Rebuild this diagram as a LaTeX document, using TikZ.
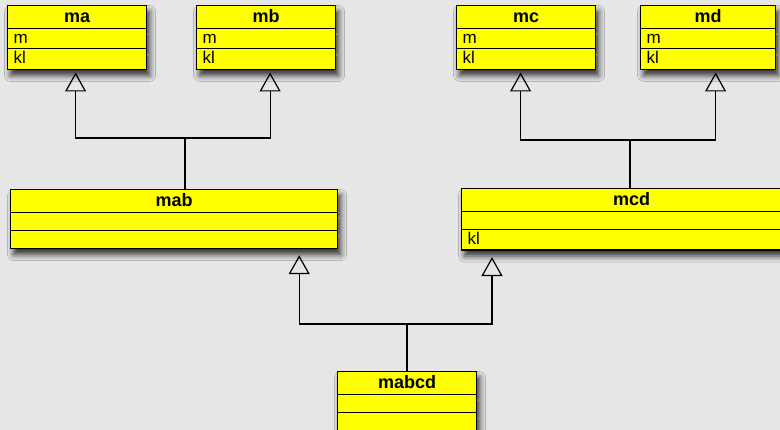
\documentclass[tikz,border=0pt]{standalone}
\usepackage{fontspec}
\setmainfont{Liberation Sans}
\usetikzlibrary{shapes.multipart,arrows.meta,shadows.blur}

\definecolor{canvas}{HTML}{E6E6E6}
\definecolor{classfill}{HTML}{FFFF00}

% rows of a class box
\newcommand\titlerow[1]{\rule{0pt}{21.4pt}\raisebox{5.5pt}{\textbf{\fontsize{18}{20}\selectfont #1}}}
\newcommand\fullrow[1]{\rule{0pt}{19.4pt}\raisebox{5pt}{#1}}
\newcommand\emptyrow{\rule{0pt}{17pt}}

\begin{document}
\begin{tikzpicture}[
    x=1pt, y=-1pt,
    umlclass/.style={rectangle split, rectangle split parts=3, draw, line width=1.2pt, fill=classfill,
        anchor=north west, inner xsep=6pt, inner ysep=0pt, rectangle split part align={center,left,left},
        font=\fontsize{17}{20}\selectfont,
        blur shadow={shadow xshift=3pt, shadow yshift=-6pt, shadow blur radius=6pt, shadow opacity=80}},
    conn/.style={line width=1.2pt},
    gen/.style={conn, -{Triangle[open, width=21pt, length=19pt]}},
]
    % Background
    \fill[canvas] (0,0) rectangle (780,430);
    \useasboundingbox (0,0) rectangle (780,430);

    % Top classes
    \node[umlclass, minimum width=139pt] (ma) at (7,5) {\titlerow{ma}\nodepart{two}\fullrow{m}\nodepart{three}\fullrow{kl}};
    \node[umlclass, minimum width=139pt] (mb) at (196,5) {\titlerow{mb}\nodepart{two}\fullrow{m}\nodepart{three}\fullrow{kl}};
    \node[umlclass, minimum width=139pt] (mc) at (456,5) {\titlerow{mc}\nodepart{two}\fullrow{m}\nodepart{three}\fullrow{kl}};
    \node[umlclass, minimum width=135pt] (md) at (640,5) {\titlerow{md}\nodepart{two}\fullrow{m}\nodepart{three}\fullrow{kl}};

    % Middle classes
    \node[umlclass, minimum width=327pt] (mab) at (10,189) {\titlerow{mab}\nodepart{two}\emptyrow\nodepart{three}\emptyrow};
    \node[umlclass, minimum width=340pt] (mcd) at (461,188) {\titlerow{mcd}\nodepart{two}\emptyrow\nodepart{three}\fullrow{kl}};

    % Bottom class
    \node[umlclass, minimum width=139pt] (mabcd) at (337,371) {\titlerow{mabcd}\nodepart{two}\emptyrow\nodepart{three}\emptyrow};

    % Junctions
    \coordinate (jab) at (185,138);
    \coordinate (jcd) at (630,140);
    \coordinate (jabcd) at (407,324);

    % Inheritance
    \draw[conn] (mab.north -| jab) -- (jab);
    \draw[gen, shorten >=2.5pt] (jab) -| ([xshift=-1.5pt]ma.south);
    \draw[gen, shorten >=2.5pt] (jab) -| ([xshift=4pt]mb.south);

    \draw[conn] (mcd.north -| jcd) -- (jcd);
    \draw[gen, shorten >=2.5pt] (jcd) -| ([xshift=-5.5pt]mc.south);
    \draw[gen, shorten >=2.5pt] (jcd) -| ([xshift=7.5pt]md.south);

    \draw[conn] (mabcd.north -| jabcd) -- (jabcd);
    \draw[gen, shorten >=6pt] (jabcd) -| ([xshift=-39pt]mab.south east);
    \draw[gen, shorten >=6.5pt] (jabcd) -| ([xshift=31pt]mcd.south west);
\end{tikzpicture}
\end{document}
